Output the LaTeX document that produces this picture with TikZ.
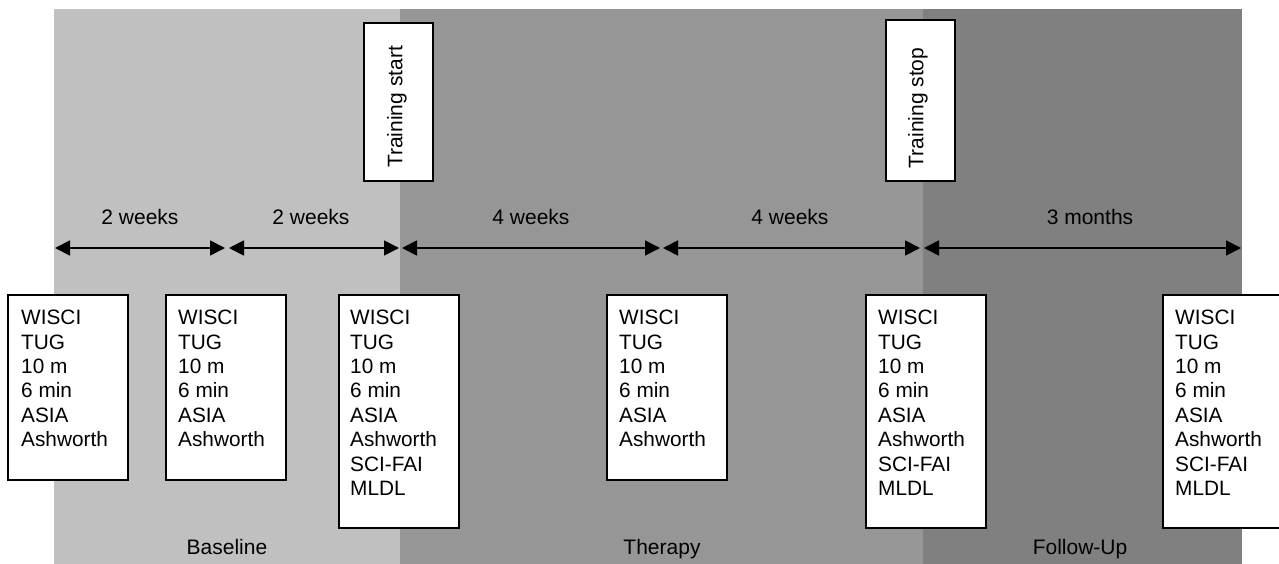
\documentclass[tikz,border=0pt]{standalone}
\usepackage{fontspec}
\setmainfont{Liberation Sans}
\usetikzlibrary{arrows.meta}
\definecolor{cbase}{HTML}{C0C0C0}
\definecolor{ctherapy}{HTML}{969696}
\definecolor{cfollow}{HTML}{808080}
\begin{document}
\begin{tikzpicture}[x=1pt,y=-1pt,
  band/.style={fill=#1,draw=none},
  mbox/.style={draw=black,line width=1.6pt,fill=white,anchor=north west,inner sep=0pt,minimum width=120pt},
  mtext/.style={anchor=north west,inner sep=0pt,align=left,font=\fontsize{20.8}{24.4}\selectfont},
  tbox/.style={draw=black,line width=1.6pt,fill=white,anchor=north west,inner sep=0pt,minimum width=69pt,minimum height=158pt},
  ttext/.style={rotate=90,inner sep=0pt,font=\fontsize{21}{24}\selectfont},
  lbl/.style={anchor=base,inner sep=0pt,font=\fontsize{21}{24}\selectfont},
  dur/.style={line width=1.8pt,{Triangle[length=15pt,width=15pt]}-{Triangle[length=15pt,width=15pt]},shorten <=0pt,shorten >=0pt}
]
\useasboundingbox (0,0) rectangle (1279,564);
\clip (0,0) rectangle (1279,564);
% bands
\fill[band=cbase] (54,9) rectangle (400,564);
\fill[band=ctherapy] (400,9) rectangle (923,564);
\fill[band=cfollow] (923,9) rectangle (1242,564);
% training markers
\node[tbox] (tstart) at (363,22) {};
\node[ttext] (tstarttxt) at (397,107) {Training start};
\node[tbox,minimum height=161pt] (tstop) at (885,19) {};
\node[ttext] (tstoptxt) at (918,108) {Training stop};
% duration arrows
\coordinate (a0) at (55,248);
\coordinate (a1) at (225,248);
\coordinate (b0) at (229,248);
\coordinate (b1) at (399,248);
\coordinate (c0) at (402,248);
\coordinate (c1) at (660,248);
\coordinate (d0) at (663,248);
\coordinate (d1) at (920,248);
\coordinate (e0) at (924,248);
\coordinate (e1) at (1241,248);
\draw[dur] (a0) -- (a1);
\draw[dur] (b0) -- (b1);
\draw[dur] (c0) -- (c1);
\draw[dur] (d0) -- (d1);
\draw[dur] (e0) -- (e1);
\node[lbl] (la) at (140,224) {2 weeks};
\node[lbl] (lb) at (311,224) {2 weeks};
\node[lbl] (lc) at (531,224) {4 weeks};
\node[lbl] (ld) at (790,224) {4 weeks};
\node[lbl] (le) at (1090,224) {3 months};
% measurement boxes
\node[mbox,minimum height=185pt] (m1) at (7,294) {};
\node[mbox,minimum height=185pt] (m2) at (165,294) {};
\node[mbox,minimum height=233pt] (m3) at (338,294) {};
\node[mbox,minimum height=185pt] (m4) at (606,294) {};
\node[mbox,minimum height=233pt] (m5) at (865,294) {};
\node[mbox,minimum height=233pt] (m6) at (1162,294) {};
\newcommand{\shortlist}{WISCI\\TUG\\10 m\\6 min\\ASIA\\Ashworth}
\newcommand{\longlist}{WISCI\\TUG\\10 m\\6 min\\ASIA\\Ashworth\\SCI-FAI\\MLDL}
\node[mtext] (t1) at ([shift={(14,16)}]m1.north west) {\shortlist};
\node[mtext] (t2) at ([shift={(13,16)}]m2.north west) {\shortlist};
\node[mtext] (t3) at ([shift={(12,16)}]m3.north west) {\longlist};
\node[mtext] (t4) at ([shift={(13,16)}]m4.north west) {\shortlist};
\node[mtext] (t5) at ([shift={(13,16)}]m5.north west) {\longlist};
\node[mtext] (t6) at ([shift={(13,16)}]m6.north west) {\longlist};
% phase labels
\node[lbl] (pb) at (227,554) {Baseline};
\node[lbl] (pt) at (662,554) {Therapy};
\node[lbl] (pf) at (1080,554) {Follow-Up};
\end{tikzpicture}
\end{document}
